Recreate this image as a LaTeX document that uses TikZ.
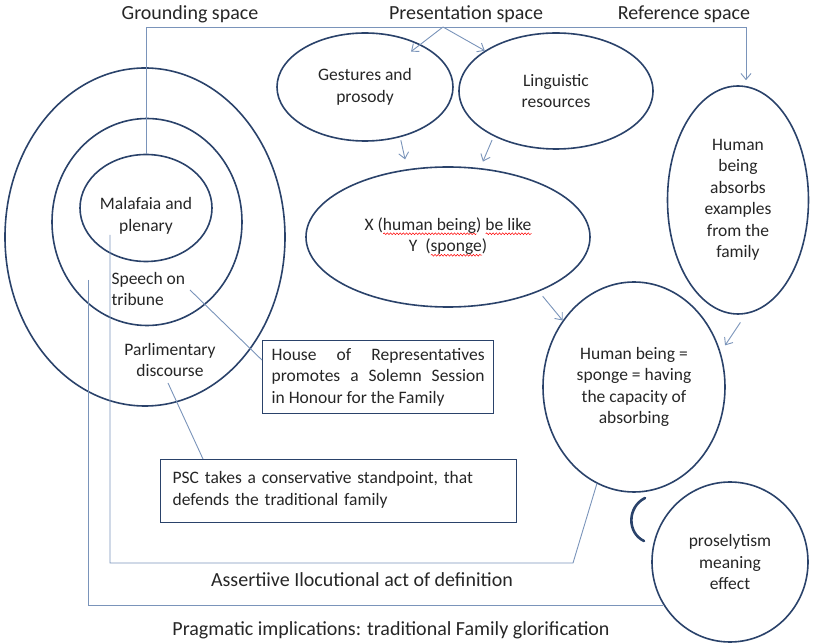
\documentclass[tikz,border=0pt]{standalone}
\usepackage{fontspec}
\setmainfont{Carlito}
\usepackage{tikz}
\usetikzlibrary{shapes.geometric,arrows.meta,positioning,calc,decorations.pathmorphing}
\definecolor{spacenavy}{RGB}{42,66,106}
\definecolor{linksteel}{RGB}{122,148,186}
\definecolor{inkgray}{RGB}{38,38,38}
\newsavebox\wavebox
\newcommand\redwave[1]{\sbox\wavebox{#1}\rlap{\raisebox{-4.5pt}{\tikz[x=1pt,y=1pt]\draw[red,line width=0.5pt,decorate,decoration={snake,amplitude=0.9pt,segment length=3.2pt}] (0,0) -- (\the\wd\wavebox,0);}}\usebox\wavebox}

\begin{document}
\begin{tikzpicture}[
  x=1pt,y=-1pt,
  font=\fontsize{17.5}{21.5}\selectfont,
  text=inkgray,
  el/.style={ellipse,draw=spacenavy,line width=1.6pt,inner sep=0pt,align=center},
  bx/.style={rectangle,draw=spacenavy,line width=1.3pt,anchor=north west},
  ln/.style={draw=linksteel,line width=0.9pt},
  arr/.style={ln,-{Straight Barb[length=6pt,width=10pt]}},
  ttl/.style={font=\fontsize{20}{24}\selectfont},
  lbl/.style={align=center}
]
\useasboundingbox (0,0) rectangle (815,644);

\node[ttl] (ground) at (190,14) {Grounding space};
\node[ttl] (pres) at (466,14) {Presentation space};
\node[ttl] (refsp) at (684,14) {Reference space};

\node[el,minimum width=280pt,minimum height=338pt] (outer) at (145,237) {};
\node[el,minimum width=190pt,minimum height=207pt] (middle) at (147,222) {};
\node[el,minimum width=132pt,minimum height=107pt] (inner) at (146,208) {};
\node[lbl] (malafaia) at (146,216) {Malafaia and\\plenary};
\node[align=left,anchor=west] (speech) at (108,289) {Speech on\\tribune};
\node[lbl] (parl) at (170,360) {Parlimentary\\discourse};

\node[el,minimum width=176pt,minimum height=108pt] (gest) at (365,87) {Gestures and\\prosody};
\node[el,minimum width=194pt,minimum height=116pt] (ling) at (556,91) {Linguistic\\resources};
\node[el,minimum width=284pt,minimum height=140pt] (xlike) at (448,237)
  {X (\redwave{human being}) \redwave{be like}\\Y\ \ (\redwave{sponge})};
\node[el,minimum width=141pt,minimum height=228pt] (hb) at (738,200)
  {Human\\being\\absorbs\\examples\\from the\\family};
\node[el,minimum width=182pt,minimum height=210pt] (sponge) at (634,387)
  {Human being =\\sponge = having\\the capacity of\\absorbing};
\node[el,minimum width=156pt,minimum height=160pt] (prose) at (730,562)
  {proselytism\\meaning\\effect};

\node[bx,text width=213pt,align=justify,inner xsep=9pt,inner ysep=7pt,minimum height=73pt] (house) at (262,340)
  {House of Representatives\linebreak promotes a Solemn Session\linebreak in Honour for the Family};
\node[bx,text width=332pt,align=left,inner xsep=12pt,inner ysep=12pt,text depth=27pt] (psc) at (160,459)
  {PSC takes a conservative standpoint, that\\defends the traditional family};

\node[ttl] (assert) at (362,580) {Assertiive Ilocutional act of definition};
\node[ttl] (pragm) at (391,630) {Pragmatic implications: traditional Family glorification};

\coordinate (gcorner) at (146,27);
\coordinate (pfork) at (443,27);
\coordinate (rcorner) at (746,27);
\coordinate (spk) at (190,290);
\coordinate (dsc) at (168,383);
\coordinate (tribfoot) at (110,235);
\coordinate (discfoot) at (88,280);
\coordinate (actcorner) at (573,563);
\coordinate (brtop) at (645,498);
\coordinate (brbot) at (644,541);

\draw[ln] (inner.north) -- (gcorner) -- (rcorner);
\draw[arr,shorten >=5pt] (rcorner) -- (rcorner |- hb.north);
\draw[arr,shorten >=-12pt] (pfork) -- (gest);
\draw[arr] (pfork) -- (ling);
\draw[arr,shorten <=3pt,shorten >=10pt] (gest.305) -- (xlike.121);
\draw[arr,shorten <=4pt,shorten >=7pt] (ling.216) -- (xlike.65);
\draw[arr,shorten <=6pt] (xlike.329) -- (sponge.137);
\draw[arr,shorten <=10pt,shorten >=8pt] (hb.274) -- (sponge.22);

\draw[ln] (spk) -- ($(house.north west)!0.27!(house.south west)$);
\draw[ln] (dsc) -- ($(psc.north west)+(43,0)$);
\draw[ln] (tribfoot) |- (actcorner) -- (sponge.249);
\draw[ln] (discfoot) |- (prose.213);

\draw[spacenavy,line width=2.6pt,line cap=round] (brtop) .. controls (627,507) and (627,533) .. (brbot);
\end{tikzpicture}
\end{document}
